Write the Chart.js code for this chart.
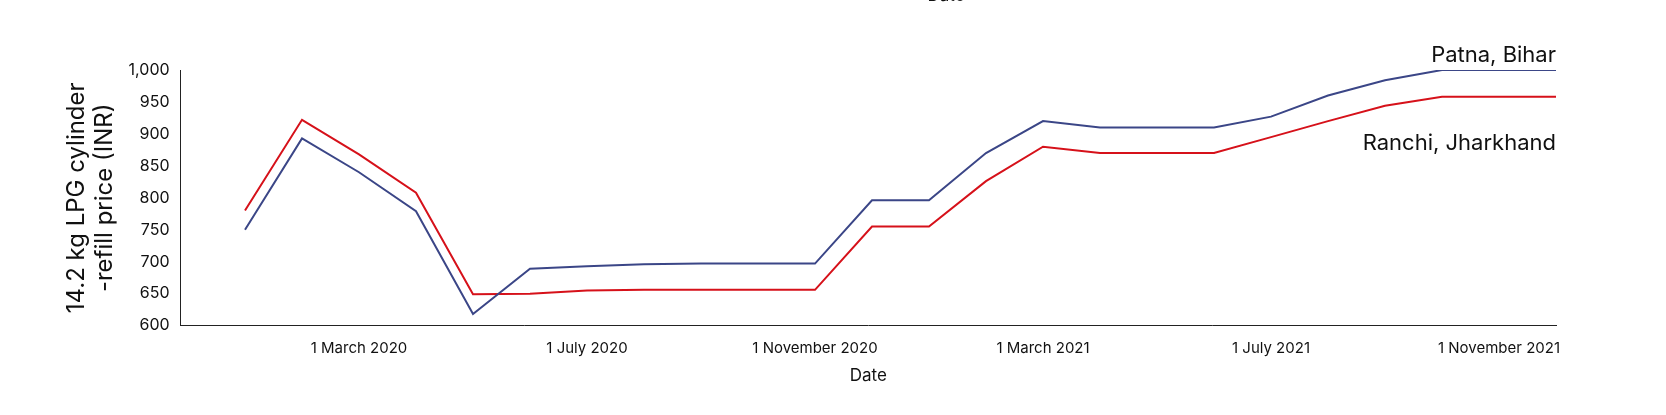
<!DOCTYPE html>
<html><head><meta charset="utf-8">
<script src="https://cdn.jsdelivr.net/npm/chart.js@4/dist/chart.umd.min.js"></script>
<style>html,body{margin:0;background:#fff}#w{width:1666px;height:415px}</style>
</head><body><div id="w"><canvas id="c"></canvas></div>
<script>
const monthIndex = [0,1,2,3,4,5,6,7,8,9,10,11,12,13,14,15,16,17,18,19,20,21,22,23];
const patna = [750,893,840,779,618,689,693,696,697,697,697,796,796,870,920,910,910,910,927,960,984,1000,1000,1000];
const ranchi = [780,922,868,808,649,650,655,656,656,656,656,755,755,826,880,870,870,870,895,920,944,958,958,958];
const tickPositions = [2,6,10,14,18,22];
const tickLabels = ['1 March 2020','1 July 2020','1 November 2020','1 March 2021','1 July 2021','1 November 2021'];
const seriesNames = ['Patna, Bihar','Ranchi, Jharkhand'];
const font = "'Inter','Noto Sans',sans-serif";
const labelsPlugin = {id:'lbl', afterDatasetsDraw(ch){
  const c=ch.ctx, x=ch.scales.x, y=ch.scales.y;
  c.save(); c.font="22px "+font; c.textAlign='right'; c.fillStyle='#111';
  c.textBaseline='bottom'; c.fillText(seriesNames[0], x.getPixelForValue(23), y.getPixelForValue(patna[23])-4);
  c.textBaseline='middle'; c.fillText(seriesNames[1], x.getPixelForValue(23), y.getPixelForValue(885));
  c.font="17px "+font; c.textAlign='center'; c.textBaseline='bottom';
  c.fillText('Date', x.getPixelForValue(12.3), 4);
  c.restore();
}};
new Chart(document.getElementById('c'),{
  type:'line',
  data:{datasets:[
    {data:monthIndex.map((m,i)=>({x:m,y:patna[i]})),borderColor:'#3b4687',borderWidth:2,pointRadius:0,tension:0},
    {data:monthIndex.map((m,i)=>({x:m,y:ranchi[i]})),borderColor:'#d6111a',borderWidth:2,pointRadius:0,tension:0}
  ]},
  options:{responsive:true,maintainAspectRatio:false,animation:false,
    layout:{padding:{top:70,right:110,left:58,bottom:25}},
    plugins:{legend:{display:false},tooltip:{enabled:false}},
    scales:{
      x:{type:'linear',min:-1.13,max:23,grid:{display:false,drawTicks:true},border:{color:'#222'},
        afterBuildTicks(s){s.ticks=tickPositions.map(v=>({value:v}));},
        ticks:{autoSkip:false,maxRotation:0,color:'#111',font:{size:15,family:font},padding:6,
          callback(v){const i=tickPositions.indexOf(v);return i>=0?tickLabels[i]:'';}},
        title:{display:true,text:'Date',color:'#111',font:{size:17,family:font},padding:{top:2}}},
      y:{min:600,max:1000,grid:{display:false},border:{color:'#222'},
        ticks:{stepSize:50,color:'#111',font:{size:16,family:font},
          callback:v=>v.toLocaleString('en-US')},
        title:{display:true,text:['14.2 kg LPG cylinder','-refill price (INR)'],color:'#111',font:{size:24,family:font},padding:{bottom:6}}}
    }
  },
  plugins:[labelsPlugin]
});
</script></body></html>
